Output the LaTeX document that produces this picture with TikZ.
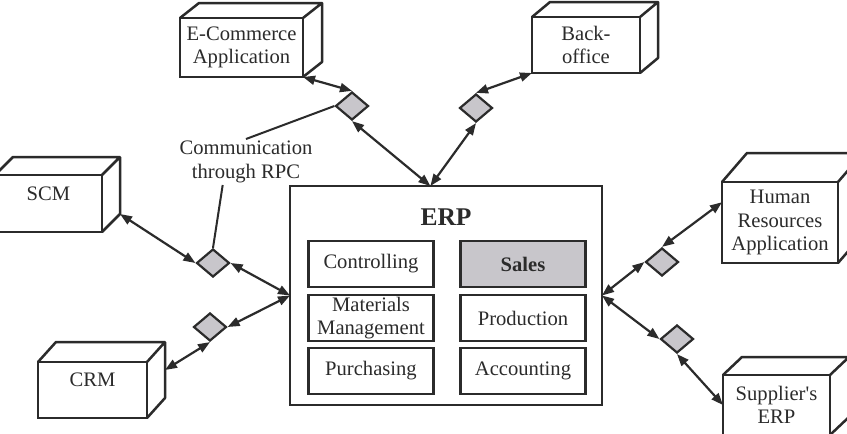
\documentclass[tikz,border=0pt]{standalone}
\usepackage{fontspec}
\setmainfont{Liberation Serif}
\usetikzlibrary{positioning, calc, arrows.meta, shapes.geometric}
\definecolor{rpcgray}{HTML}{C8C6CB}
\definecolor{inkgray}{HTML}{2B2B2B}

\begin{document}
\begin{tikzpicture}[x=1pt, y=-1pt,
    every node/.style={font=\fontsize{20.6}{23.5}\selectfont, text=inkgray},
    appbox/.style={draw=inkgray, line width=2.5pt, fill=white, inner sep=0pt, outer sep=0pt, align=center},
    modbox/.style={draw=inkgray, line width=2.5pt, inner sep=0pt, outer sep=0pt, minimum width=125pt, minimum height=46pt, align=center},
    rpc/.style={diamond, draw=inkgray, line width=2.2pt, fill=rpcgray, inner sep=0pt, minimum width=33pt, minimum height=28pt},
    biarrow/.style={draw=inkgray, line width=2.2pt, {Triangle[length=12pt,width=9pt]}-{Triangle[length=12pt,width=9pt]}}]
    \clip (0,0) rectangle (847,434);
    \fill[white] (0,0) rectangle (847,434);

    % outside applications (front faces)
    \node[appbox, minimum width=123pt, minimum height=59pt] (ecom) at (241.5,47.5) {E-Commerce\\Application};
    \node[appbox, minimum width=108pt, minimum height=56pt] (back) at (586,45) {Back-\\office};
    \node[appbox, minimum width=107pt, minimum height=57pt, text depth=20pt] (scm) at (48.5,203.5) {SCM};
    \node[appbox, minimum width=109pt, minimum height=56pt, text depth=20pt] (crm) at (92.5,390) {CRM};
    \node[appbox, minimum width=116pt, minimum height=81pt] (hr) at (780,222.5) {Human\\Resources\\Application};
    \node[appbox, minimum width=107pt, minimum height=60pt] (supp) at (776.5,405) {Supplier\textquotesingle s\\ERP};

    % top and side faces
    \foreach \b/\dx/\dy in {ecom/19/15, back/18/15, scm/18/18, crm/18/20, hr/25/29, supp/19/18} {
        \coordinate (\b-ne) at ([shift={(\dx,-\dy)}]\b.north east);
        \coordinate (\b-se) at ([shift={(\dx,-\dy)}]\b.south east);
        \draw[draw=inkgray, line width=2.5pt, line join=round] (\b.north west) -- ++(\dx,-\dy) -- (\b-ne) -- (\b-se) -- (\b.south east) (\b.north east) -- (\b-ne);
    }

    % ERP system
    \node[draw=inkgray, line width=2.5pt, outer sep=0pt, minimum width=312pt, minimum height=219pt] (erp) at (446,295.5) {};
    \node[font=\bfseries\fontsize{25.5}{28}\selectfont] (erptitle) at (446,217) {ERP};
    \foreach \n/\x/\y/\t in {ctrl/371/264/Controlling, mm/371/318/{Materials\\Management}, purch/371/371/Purchasing, prod/523/318/Production, acct/523/371/Accounting}
        \node[modbox] (\n) at (\x,\y) {\t};
    \node[modbox, fill=rpcgray, font=\bfseries\fontsize{20.6}{23.5}\selectfont] (sales) at (523,264) {Sales};

    % RPC connectors
    \node[rpc] (d1) at (352,106) {};
    \node[rpc] (d2) at (476,108) {};
    \node[rpc] (dscm) at (213,263) {};
    \node[rpc] (dcrm) at (210,327) {};
    \node[rpc] (dhr) at (662,262) {};
    \node[rpc] (dsup) at (677,339) {};

    \coordinate (erptop) at ($(erp.north west)!0.45!(erp.north east)$);

    \draw[biarrow] (ecom.south east) -- (d1.north);
    \draw[biarrow] (d1.south) -- (erptop);
    \draw[biarrow] (d2.north) -- (back.south west);
    \draw[biarrow] (d2.south) -- (erptop);
    \draw[biarrow] (scm-se) -- (dscm.west);
    \draw[biarrow] (dscm.east) -- (erp.west);
    \draw[biarrow] ($(crm-ne)!0.5!(crm-se)$) -- (dcrm.south);
    \draw[biarrow] (dcrm.east) -- (erp.west);
    \draw[biarrow] (erp.east) -- (dhr.west);
    \draw[biarrow] (dhr.north) -- ($(hr.north west)!0.25!(hr.south west)$);
    \draw[biarrow] (erp.east) -- (dsup.west);
    \draw[biarrow] (dsup.south) -- (supp.west);

    % label
    \node[align=center, inner sep=2pt] (comm) at (246,162) {Communication\\through RPC};
    \draw[draw=inkgray, line width=2pt] (comm.north) -- (d1.west);
    \draw[draw=inkgray, line width=2pt] ($(comm.south west)!0.33!(comm.south east)$) -- (dscm.north);
\end{tikzpicture}
\end{document}
